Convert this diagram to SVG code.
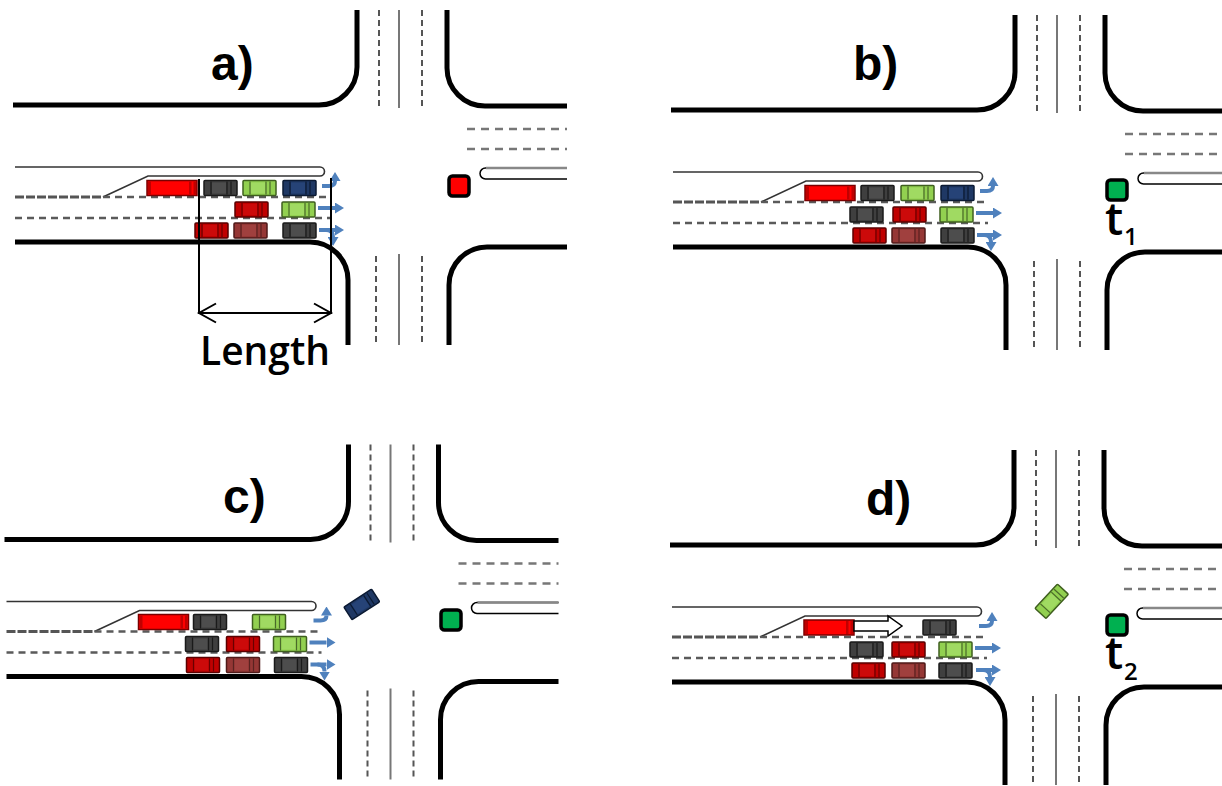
<svg xmlns="http://www.w3.org/2000/svg" width="1222" height="786" viewBox="0 0 1222 786">
<style>
.curb{fill:none;stroke:#000;stroke-width:5}
.lane{fill:none;stroke:#5a5a5a;stroke-width:2.3;stroke-dasharray:7 5}
.vdash{fill:none;stroke:#555;stroke-width:2;stroke-dasharray:6 4}
.vsolid{stroke:#777;stroke-width:2}
.hdash{stroke:#777;stroke-width:2.5;stroke-dasharray:8 6}
.turn{fill:none;stroke:#4f81bd;stroke-width:4;marker-end:url(#bh)}
.title{font-family:"Liberation Sans",Arial,sans-serif;font-weight:bold;font-size:48px;fill:#000}
.lbl{font-family:"Open Sans","DejaVu Sans",sans-serif;font-weight:600;fill:#000}
.dim{fill:none;stroke:#000;stroke-width:2}
</style>
<defs>
<marker id="bh" markerUnits="userSpaceOnUse" markerWidth="9" markerHeight="11" refX="0" refY="5.5" orient="auto" viewBox="0 0 9 11"><path d="M0,0L9,5.5L0,11z" fill="#4f81bd"/></marker>
<g id="truck"><rect width="50" height="15" fill="#ff0000" stroke="#7a0000" stroke-width="1.5"/><rect x="1" y="1" width="3" height="13" fill="#c00000"/><rect x="42" y="1" width="2.5" height="13" fill="#c00000"/><rect x="46.5" y="1" width="2.5" height="13" fill="#c00000"/></g>
<g id="car-gray"><rect width="33" height="15" rx="1" fill="#3f3f3f" stroke="#1a1a1a" stroke-width="1.5"/><rect x="8" y="2" width="14" height="11" fill="#4d4d4d"/><path d="M7,1V14M23,1V14M27,1V14" stroke="#1a1a1a" stroke-width="1.2"/></g>
<g id="car-green"><rect width="33" height="15" rx="1" fill="#92d050" stroke="#3f5f1f" stroke-width="1.5"/><rect x="8" y="2" width="14" height="11" fill="#a0da62"/><path d="M7,1V14M23,1V14M27,1V14" stroke="#4a6a2a" stroke-width="1.2"/></g>
<g id="car-navy"><rect width="33" height="15" rx="1" fill="#1f3864" stroke="#0b1a33" stroke-width="1.5"/><rect x="8" y="2" width="14" height="11" fill="#264377"/><path d="M7,1V14M23,1V14M27,1V14" stroke="#0b1a33" stroke-width="1.2"/></g>
<g id="car-red"><rect width="33" height="15" rx="1" fill="#c00000" stroke="#5a0000" stroke-width="1.5"/><rect x="8" y="2" width="14" height="11" fill="#cc0a0a"/><path d="M7,1V14M23,1V14M27,1V14" stroke="#6a0000" stroke-width="1.2"/></g>
<g id="car-brown"><rect width="33" height="15" rx="1" fill="#953735" stroke="#4f1a19" stroke-width="1.5"/><rect x="8" y="2" width="14" height="11" fill="#a0403e"/><path d="M7,1V14M23,1V14M27,1V14" stroke="#5a2220" stroke-width="1.2"/></g>
<g id="road">
 <path class="curb" d="M13,105 H319 A38,38 0 0 0 357,67 V10"/>
 <path class="curb" d="M447,10 V68 A38,38 0 0 0 485,106 H567"/>
 <path class="curb" d="M15,242 H310 A38,38 0 0 1 348,280 V345"/>
 <path class="curb" d="M567,247 H487 A38,38 0 0 0 449,285 V345"/>
 <line class="vdash" x1="379" y1="10" x2="379" y2="107"/>
 <line class="vsolid" x1="399" y1="10" x2="399" y2="108"/>
 <line class="vdash" x1="422" y1="10" x2="422" y2="107"/>
 <line class="vdash" x1="376" y1="256" x2="376" y2="345"/>
 <line class="vsolid" x1="399" y1="254" x2="399" y2="345"/>
 <line class="vdash" x1="422" y1="256" x2="422" y2="345"/>
 <line class="hdash" x1="467" y1="129" x2="567" y2="129"/>
 <line class="hdash" x1="467" y1="149" x2="567" y2="149"/>
 <path d="M567,168 H485.5 A5.5,5.5 0 0 0 485.5,179 H567" fill="#fff" stroke="#000" stroke-width="1.5"/>
 <line x1="486" y1="168" x2="567" y2="168" stroke="#888" stroke-width="2.5"/>
 <path d="M15,167 H320 A4.5,4.5 0 0 1 320,176 H148 L103,197" fill="none" stroke="#333" stroke-width="1.6"/>
 <path d="M15,197 H103" fill="none" stroke="#555" stroke-width="2.8" stroke-dasharray="9 2"/>
 <line class="lane" x1="103" y1="197" x2="330" y2="197"/>
 <line class="lane" x1="15" y1="218" x2="330" y2="218"/>
 <path class="turn" d="M322,186 H329 Q335,186 335,181"/>
 <path class="turn" d="M318,208 H335"/>
 <path class="turn" d="M319,230 H335"/>
 <path class="turn" d="M326,230 Q333,230 333,237"/>
</g>
</defs>

<g id="panel-a">
 <use href="#road"/>
 <g id="a-cars">
  <use href="#truck" x="147" y="180.5"/>
  <use href="#car-gray" x="204" y="180.5"/>
  <use href="#car-green" x="243" y="180.5"/>
  <use href="#car-navy" x="283" y="180.5"/>
  <use href="#car-red" x="235" y="202"/>
  <use href="#car-green" x="282" y="202"/>
  <use href="#car-red" x="195" y="223"/>
  <use href="#car-brown" x="234" y="223"/>
  <use href="#car-gray" x="283" y="223"/>
 </g>
 <rect id="a-light" x="449" y="176" width="20" height="20" rx="3.5" fill="#ff0000" stroke="#000" stroke-width="3.5"/>
 <text class="title" x="211" y="80">a)</text>
</g>

<g id="connectors">
 <path class="dim" d="M199,179 V314 M331,178 V314 M199,313 H331"/>
 <path class="dim" d="M216,303.5 L199,313 L216,322.5 M314,303.5 L331,313 L314,322.5"/>
</g>
<text class="lbl" x="200" y="365" font-size="40" textLength="130" lengthAdjust="spacingAndGlyphs">Length</text>

<g id="panel-b">
 <g transform="translate(658,5)">
  <use href="#road"/>
  <use href="#truck" x="147" y="180.5"/>
  <use href="#car-gray" x="203" y="180.5"/>
  <use href="#car-green" x="243" y="180.5"/>
  <use href="#car-navy" x="283" y="180.5"/>
  <use href="#car-gray" x="192" y="202"/>
  <use href="#car-red" x="235" y="202"/>
  <use href="#car-green" x="282" y="202"/>
  <use href="#car-red" x="195" y="223"/>
  <use href="#car-brown" x="234" y="223"/>
  <use href="#car-gray" x="283" y="223"/>
  <rect x="449" y="175" width="20" height="20" rx="3.5" fill="#00b050" stroke="#000" stroke-width="3.5"/>
 </g>
 <text class="title" x="853" y="80">b)</text>
 <text class="lbl" x="1105" y="235" font-size="46">t</text>
 <text class="lbl" x="1124" y="245" font-size="24">1</text>
</g>

<g id="panel-c">
 <g transform="translate(-8.5,434.5)">
  <use href="#road"/>
  <use href="#truck" x="147" y="180"/>
  <use href="#car-gray" x="202" y="180"/>
  <use href="#car-green" x="261" y="180"/>
  <use href="#car-gray" x="194" y="202"/>
  <use href="#car-red" x="235" y="202"/>
  <use href="#car-green" x="282" y="202"/>
  <use href="#car-red" x="195" y="223"/>
  <use href="#car-brown" x="235" y="223"/>
  <use href="#car-gray" x="283" y="223"/>
  <use href="#car-navy" transform="translate(370,169.5) rotate(-33) translate(-16.5,-7)"/>
  <rect x="449.5" y="175.5" width="20" height="20" rx="3.5" fill="#00b050" stroke="#000" stroke-width="3.5"/>
 </g>
 <text class="title" x="223" y="513">c)</text>
</g>

<g id="panel-d">
 <g transform="translate(657,440)">
  <use href="#road"/>
  <use href="#truck" x="147" y="180"/>
  <path d="M197,181 H231 V176 L245,186 L231,196 V191 H197 Z" fill="#fff" stroke="#000" stroke-width="1.5"/>
  <use href="#car-gray" x="266" y="180"/>
  <use href="#car-gray" x="193" y="202"/>
  <use href="#car-red" x="235" y="202"/>
  <use href="#car-green" x="282" y="202"/>
  <use href="#car-red" x="195" y="223"/>
  <use href="#car-brown" x="235" y="223"/>
  <use href="#car-gray" x="282" y="223"/>
  <use href="#car-green" transform="translate(394.7,161.3) rotate(-47) translate(-16.5,-7.5)"/>
  <rect x="450" y="175" width="20" height="20" rx="3.5" fill="#00b050" stroke="#000" stroke-width="3.5"/>
 </g>
 <text class="title" x="866" y="515">d)</text>
 <text class="lbl" x="1105" y="669" font-size="46">t</text>
 <text class="lbl" x="1124" y="680" font-size="24">2</text>
</g>
</svg>
